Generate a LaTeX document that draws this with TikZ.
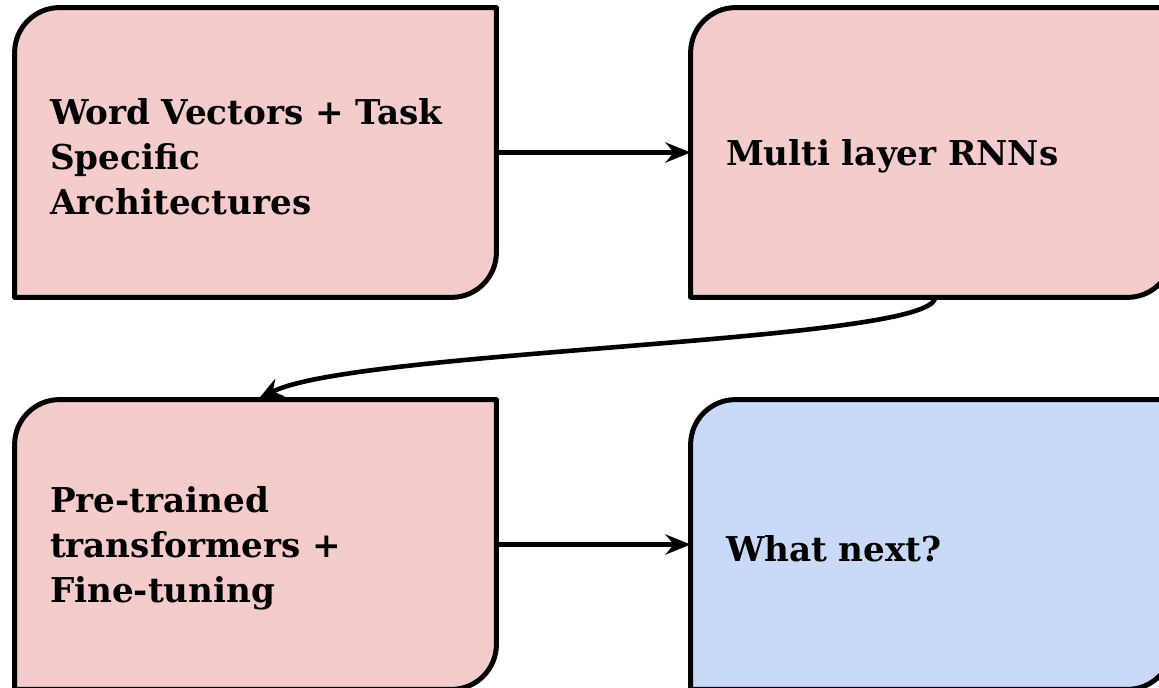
\documentclass[tikz,border=0pt]{standalone}
\usepackage{fontspec}
\setmainfont{DejaVu Serif}
\usetikzlibrary{arrows.meta,backgrounds}
\definecolor{pinkfill}{HTML}{F4CCCC}
\definecolor{bluefill}{HTML}{C9DAF8}
\newcommand{\rr}{22.5pt}
\newcommand{\tv}{2pt}
\newcommand{\cardshape}[2]{%
  \draw[boxline,fill=#2] ([yshift=\tv]#1.south west) -- ([yshift=\tv-\rr]#1.north west)
    arc[start angle=180,end angle=90,radius=\rr] -- ([yshift=\tv]#1.north east)
    -- ([yshift=\tv+\rr]#1.south east)
    arc[start angle=0,end angle=-90,radius=\rr] -- cycle;}
\tikzset{
  card/.style={rectangle,inner sep=0pt,minimum width=240.5pt,minimum height=144.5pt,
    text width=205.5pt,align=left,font=\fontsize{17.1}{22.5}\selectfont\bfseries},
  boxline/.style={line width=2.5pt,line join=round},
  arr/.style={line width=2.3pt,-{Stealth[length=12.5pt,width=10pt]}}
}
\begin{document}
\begin{tikzpicture}[x=0.5pt,y=-0.5pt]
\useasboundingbox (0,0) rectangle (1159,688);
\clip (0,0) rectangle (1159,688);
\node[card] (wv) at (255.5,156.5) {Word Vectors + Task\\Specific\\Architectures};
\node[card] (rnn) at (931.5,156.5) {Multi layer RNNs};
\node[card] (pt) at (255.5,548.5) {Pre-trained\\transformers +\\Fine-tuning};
\node[card] (wn) at (931.5,548.5) {What next?};
\begin{pgfonlayer}{background}
\cardshape{wv}{pinkfill}
\cardshape{rnn}{pinkfill}
\cardshape{pt}{pinkfill}
\cardshape{wn}{bluefill}
\end{pgfonlayer}
\draw[arr] ([yshift=\tv]wv.east) -- ([yshift=\tv]rnn.west);
\draw[arr] ([yshift=\tv]pt.east) -- ([yshift=\tv]wn.west);
\draw[arr] ([xshift=1.75pt,yshift=\tv]rnn.south) .. controls +(0,45) and +(92,-50) .. ([xshift=1.25pt,yshift=\tv]pt.north);
\end{tikzpicture}
\end{document}
